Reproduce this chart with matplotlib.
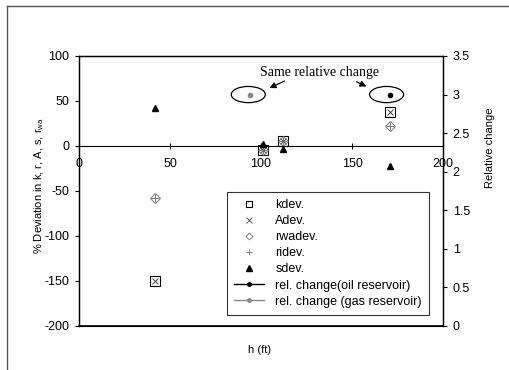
import numpy as np
import matplotlib.pyplot as plt
from matplotlib.patches import Ellipse
from matplotlib.lines import Line2D

plt.rcParams['font.family'] = 'Liberation Sans'
plt.rcParams['axes.unicode_minus'] = False

# deviation data (left axis)
h = [42, 101, 112, 171]
kdev = [-150, -5, 5, 38]
Adev = [-150, -5, 5, 38]
rwadev = [-58, -5, 5, 22]
ridev = [-58, -5, 5, 22]
sdev = [42, 2, -3, -22]

# relative change (right axis)
h_oil = [171]
rel_oil = [3.0]
h_gas = [94]
rel_gas = [3.0]

fig = plt.figure(figsize=(5.1, 3.7), dpi=100)
ax = fig.add_axes([0.155, 0.119, 0.7136, 0.7297])

ax.plot(h, kdev, ls='none', marker='s', ms=6.5, mfc='none', mec='black', mew=0.8)
ax.plot(h, Adev, ls='none', marker='x', ms=5, color='#444444', mew=0.7)
ax.plot(h, rwadev, ls='none', marker='D', ms=5, mfc='none', mec='#777777', mew=0.7)
ax.plot(h, ridev, ls='none', marker='+', ms=6, color='#777777', mew=0.7)
ax.plot(h, sdev, ls='none', marker='^', ms=5, color='black')

ax.set_xlim(0, 200)
ax.set_ylim(-200, 100)
ax.set_xticks(np.arange(0, 201, 50))
ax.set_yticks(np.arange(-200, 101, 50))
ax.spines['bottom'].set_position(('data', 0))
ax.spines['bottom'].set_linewidth(0.8)
ax.axhline(-200, color='black', lw=1.2, clip_on=False)
for s in ['top', 'left', 'right']:
    ax.spines[s].set_linewidth(1.0)
ax.tick_params(axis='x', direction='inout', length=4, labelsize=9, pad=7)
ax.tick_params(axis='y', direction='out', length=3, labelsize=9, pad=4)
ax.set_ylabel('% Deviation in k, r, A, s, r$_{\\mathregular{wa}}$', fontsize=8)
ax.yaxis.set_label_coords(-0.09, 0.52)
fig.text(260 / 510, 1 - 350 / 370, 'h (ft)', fontsize=8, ha='center', va='center')

ax2 = ax.twinx()
ax2.plot(h_oil, rel_oil, ls='-', marker='o', ms=3, color='black')
ax2.plot(h_gas, rel_gas, ls='-', marker='o', ms=3, color='#888888')
ax2.set_ylim(0, 3.5)
ax2.set_yticks(np.arange(0, 3.51, 0.5))
ax2.set_yticklabels(['0', '0.5', '1', '1.5', '2', '2.5', '3', '3.5'])
ax2.tick_params(axis='y', direction='out', length=3, labelsize=9, pad=4)
ax2.set_ylabel('Relative change', fontsize=8)
ax2.yaxis.set_label_coords(1.115, 0.66)

# ellipses around the equal points
for xc in [93, 169]:
    ax2.add_patch(Ellipse((xc, 3.0), 18.7, 0.21, fill=False, ec='black', lw=0.9))

ax2.text(132.4, 3.29, 'Same relative change', family='Liberation Serif',
         fontsize=10, ha='center', va='center')
ax2.annotate('', xy=(103.3, 3.07), xytext=(114.3, 3.19),
             arrowprops=dict(arrowstyle='-|>', color='black', lw=0.9, mutation_scale=9))
ax2.annotate('', xy=(159.3, 3.09), xytext=(151.1, 3.18),
             arrowprops=dict(arrowstyle='-|>', color='black', lw=0.9, mutation_scale=9))

handles = [
    Line2D([], [], ls='none', marker='s', ms=4, mfc='none', mec='black', mew=0.8),
    Line2D([], [], ls='none', marker='x', ms=4, color='#444444', mew=0.6),
    Line2D([], [], ls='none', marker='D', ms=3.5, mfc='none', mec='#777777', mew=0.6),
    Line2D([], [], ls='none', marker='+', ms=5, color='#777777', mew=0.6),
    Line2D([], [], ls='none', marker='^', ms=4, color='black'),
    Line2D([], [], ls='-', lw=1, marker='o', ms=2.5, color='black'),
    Line2D([], [], ls='-', lw=1, marker='o', ms=2.5, color='#888888'),
]
labels = ['kdev.', 'Adev.', 'rwadev.', 'ridev.', 'sdev.',
          'rel. change(oil reservoir)', 'rel. change (gas reservoir)']
leg = ax2.legend(handles, labels, loc='upper left', bbox_to_anchor=(0.407, 0.496),
                 fontsize=9, frameon=True, fancybox=False, edgecolor='black',
                 handlelength=2.4, handletextpad=0.9, labelspacing=0.33,
                 borderpad=0.55, borderaxespad=0)
leg.get_frame().set_linewidth(0.8)

# outer frame of the chart area
fig.add_artist(Line2D([7/510, 7/510], [0, 1 - 6/370], transform=fig.transFigure,
                      color='#555555', lw=1))
fig.add_artist(Line2D([7/510, 1], [1 - 6/370, 1 - 6/370], transform=fig.transFigure,
                      color='#555555', lw=1))

fig.savefig('out.png', dpi=100)
